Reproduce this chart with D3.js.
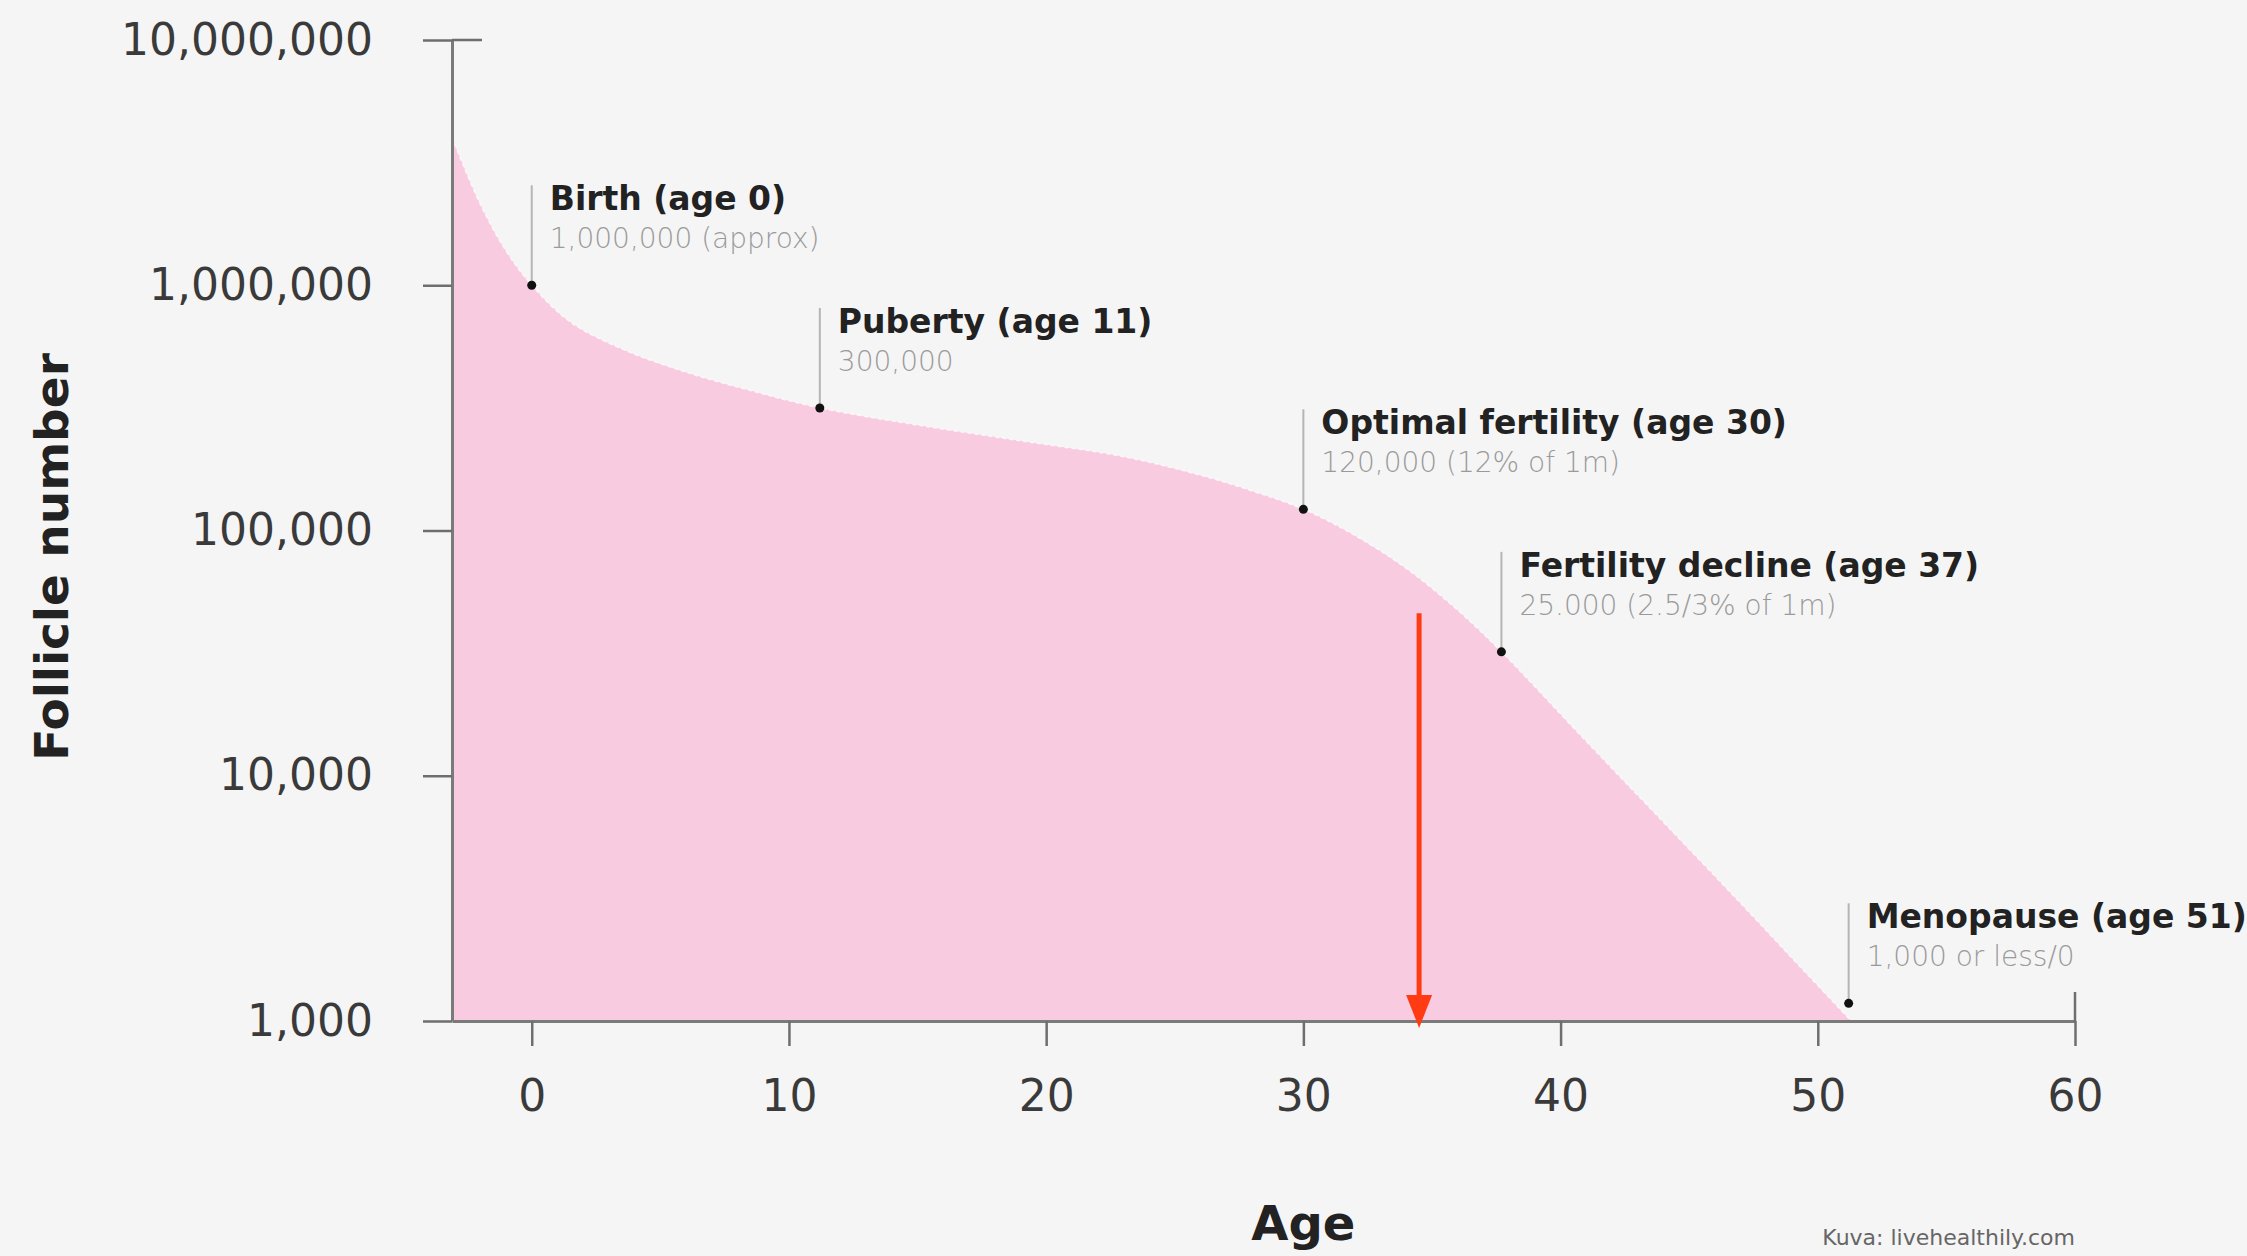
<!DOCTYPE html>
<html>
<head>
<meta charset="utf-8">
<script src="https://cdn.jsdelivr.net/npm/d3@7"></script>
<style>
    html, body { margin: 0; padding: 0; background: #f5f5f5; }
    svg { display: block; }
    .tick text { font-family: "DejaVu Sans", sans-serif; fill: #3a3a3a; }
</style>
</head>
<body>
<svg></svg>
<script>

// Follicle count by age.
var ages = [-3.1, -2, -1, 0, 1.5, 3.5, 6, 8.5, 11.2, 15, 19, 23, 26, 28,
    30, 32, 34, 36, 37.7, 41, 44, 47, 49.5, 51.3];
var follicles = [4000000, 2140000, 1380000, 1000000, 708000, 550000, 442000, 372000,
    316000, 269000, 232000, 200000, 168000, 145000, 122000, 95500, 70000, 47300,
    32000, 13800, 6460, 3020, 1585, 1000];

var xTicks = [0, 10, 20, 30, 40, 50, 60];
var yTicks = [1000, 10000, 100000, 1000000, 10000000];

var noteTitles = ['Birth (age 0)', 'Puberty (age 11)', 'Optimal fertility (age 30)',
    'Fertility decline (age 37)', 'Menopause (age 51)'];
var noteSubs = ['1,000,000 (approx)', '300,000', '120,000 (12% of 1m)',
    '25.000 (2.5/3% of 1m)', '1,000 or less/0'];
var noteAges = [0, 11.2, 30, 37.7, 51.2];
var noteValues = [1000000, 316000, 122000, 32000, 1180];

// The red arrow.
var arrowAge = 34.5;
var arrowFrom = 46000;
var arrowTo = 1000;

//==========================================================================
// Scales and layout.

var W = 2247, H = 1256;

var svg = d3.select('svg')
    .attr('width', W)
    .attr('height', H)
;

var x = d3.scaleLinear()
    .domain([ages[0], 60])
    .range([452, 2075])
;

var y = d3.scaleLog()
    .domain([1000, 10000000])
    .range([1021, 40])
;

var data = ages.map(function(a, i) {
    return { age: a, value: follicles[i] };
});

//==========================================================================
// Area.

var area = d3.area()
    .x(function(d) { return x(d.age); })
    .y0(y(1000))
    .y1(function(d) { return y(d.value); })
    .curve(d3.curveCatmullRom.alpha(0.5))
;

var line = d3.line()
    .x(function(d) { return x(d.age); })
    .y(function(d) { return y(d.value); })
    .curve(d3.curveCatmullRom.alpha(0.5))
;

svg.append('path')
    .datum(data)
    .attr('d', area)
    .style('fill', '#f9cbe0')
;

svg.append('path')
    .datum(data)
    .attr('d', line)
    .style('fill', 'none')
    .style('stroke', '#ffffff')
    .style('stroke-width', 1.5)
    .style('stroke-dasharray', '4 3')
    .style('opacity', 0.7)
;

//==========================================================================
// Axes.

var yAxis = svg.append('g')
    .attr('transform', 'translate(' + x.range()[0] + ',0)')
    .call(d3.axisLeft(y)
        .tickValues(yTicks)
        .tickFormat(d3.format(','))
        .tickSize(29)
        .tickSizeOuter(0)
        .tickPadding(50))
;

var xAxis = svg.append('g')
    .attr('transform', 'translate(0,' + y(1000) + ')')
    .call(d3.axisBottom(x)
        .tickValues(xTicks)
        .tickFormat(d3.format('d'))
        .tickSize(25)
        .tickSizeOuter(0)
        .tickPadding(34))
;

[xAxis, yAxis].forEach(function(g) {
    g.selectAll('.domain').style('stroke', '#7a7a7a').style('stroke-width', 3);
    g.selectAll('.tick line').style('stroke', '#6e6e6e').style('stroke-width', 2.5);
    g.selectAll('.tick text').style('font-size', '44px');
});

// Caps at the ends of the axes.
svg.append('line')
    .attr('x1', x.range()[0])
    .attr('x2', x.range()[0] + 30)
    .attr('y1', y(10000000))
    .attr('y2', y(10000000))
    .style('stroke', '#6e6e6e')
    .style('stroke-width', 2.5)
;
svg.append('line')
    .attr('x1', x(60))
    .attr('x2', x(60))
    .attr('y1', y(1000) - 29)
    .attr('y2', y(1000))
    .style('stroke', '#6e6e6e')
    .style('stroke-width', 2.5)
;

//==========================================================================
// Arrow.

svg.append('line')
    .attr('x1', x(arrowAge))
    .attr('x2', x(arrowAge))
    .attr('y1', y(arrowFrom))
    .attr('y2', y(arrowTo) - 20)
    .style('stroke', '#ff3b14')
    .style('stroke-width', 5)
;
svg.append('path')
    .attr('d', function() {
        var ax = x(arrowAge), ay = y(arrowTo) + 7;
        var p = d3.path();
        p.moveTo(ax, ay);
        p.lineTo(ax - 13, ay - 33);
        p.lineTo(ax + 13, ay - 33);
        p.closePath();
        return p.toString();
    })
    .style('fill', '#ff3b14')
;

//==========================================================================
// Annotations.

var notes = noteTitles.map(function(t, i) {
    return { title: t, sub: noteSubs[i], age: noteAges[i], value: noteValues[i] };
});

var noteG = svg.selectAll('.note')
    .data(notes)
    .enter()
    .append('g')
    .classed('note', true)
    .attr('transform', function(d) {
        return 'translate(' + x(d.age) + ',' + y(d.value) + ')';
    })
;

noteG.append('line')
    .attr('x1', 0)
    .attr('x2', 0)
    .attr('y1', 0)
    .attr('y2', -100)
    .style('stroke', '#b5b5b5')
    .style('stroke-width', 2)
;

noteG.append('circle')
    .attr('r', 4.5)
    .style('fill', '#111')
;

noteG.append('text')
    .attr('x', 18)
    .attr('y', -75)
    .text(function(d) { return d.title; })
    .style('font-family', '"DejaVu Sans", sans-serif')
    .style('font-weight', 'bold')
    .style('font-size', '33px')
    .style('fill', '#222')
;

noteG.append('text')
    .attr('x', 18)
    .attr('y', -37)
    .text(function(d) { return d.sub; })
    .style('font-family', '"DejaVu Sans", sans-serif')
    .style('font-weight', 300)
    .style('font-size', '28px')
    .style('fill', '#9a9a9a')
;

//==========================================================================
// Titles.

svg.append('text')
    .attr('x', x(30))
    .attr('y', 1240)
    .attr('text-anchor', 'middle')
    .text('Age')
    .style('font-family', '"DejaVu Sans", sans-serif')
    .style('font-weight', 'bold')
    .style('font-size', '48px')
    .style('fill', '#222')
;

svg.append('text')
    .attr('transform', 'translate(68,557) rotate(-90)')
    .attr('text-anchor', 'middle')
    .text('Follicle number')
    .style('font-family', '"DejaVu Sans", sans-serif')
    .style('font-weight', 'bold')
    .style('font-size', '47px')
    .style('fill', '#222')
;

svg.append('text')
    .attr('x', x(60))
    .attr('y', 1245)
    .attr('text-anchor', 'end')
    .text('Kuva: livehealthily.com')
    .style('font-family', '"DejaVu Sans", sans-serif')
    .style('font-size', '22px')
    .style('fill', '#666')
;

</script>
</body>
</html>
